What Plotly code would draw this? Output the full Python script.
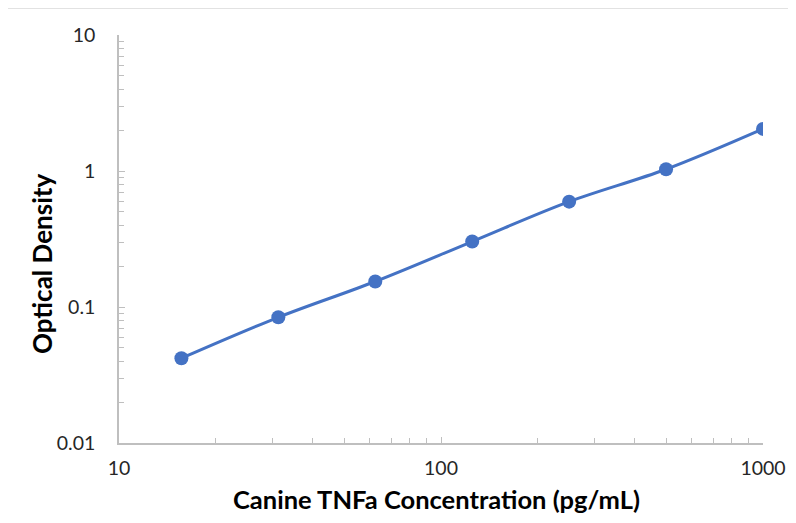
import plotly.graph_objects as go

concentration = [15.625, 31.25, 62.5, 125, 250, 500, 1000]
optical_density = [0.042, 0.084, 0.154, 0.303, 0.595, 1.03, 2.04]
x_ticks = [10, 100, 1000]
x_tick_labels = ["10", "100", "1000"]
y_ticks = [0.01, 0.1, 1, 10]
y_tick_labels = ["0.01", "0.1", "1", "10"]
x_title = "Canine TNFa Concentration (pg/mL)"
y_title = "Optical Density"

# page body has an 8px offset, so figure is sized to fit the window
W, H = 780, 507
L, T = 111, 27
R = W - (763 - 8)
B = H - (443 - 8)
PW, PH = W - L - R, H - T - B

FONT = "Lato, Liberation Sans, Arial, sans-serif"

fig = go.Figure()
fig.add_trace(go.Scatter(
    x=concentration, y=optical_density, mode="lines+markers",
    line=dict(color="#4472C4", width=3, shape="spline"),
    marker=dict(color="#4472C4", size=14),
))

axis_common = dict(
    type="log", showgrid=False, zeroline=False, showline=True,
    linecolor="#BFBFBF", linewidth=1.5, ticks="inside", ticklen=6,
    tickcolor="#BFBFBF", tickwidth=1,
    tickfont=dict(family=FONT, size=19.5, color="#262626"),
    minor=dict(ticks="inside", ticklen=5, tickcolor="#BFBFBF", dtick="D1"),
)

fig.update_xaxes(**axis_common, range=[1, 3], tickvals=x_ticks, ticktext=x_tick_labels,
                 ticklabelstandoff=7)
fig.update_yaxes(**axis_common, range=[-2, 1], tickvals=y_ticks, ticktext=y_tick_labels,
                 ticklabelstandoff=18)

px = lambda p: (p - L) / PW
py = lambda p: (H - B - p) / PH

# axis titles placed as in the reference (Excel-style offsets)
fig.add_annotation(text="<b>%s</b>" % x_title, xref="paper", yref="paper",
                   x=px(428), y=py(491), xanchor="center", yanchor="middle",
                   showarrow=False, font=dict(family=FONT, size=25.5, color="#000"))
fig.add_annotation(text="<b>%s</b>" % y_title, xref="paper", yref="paper",
                   x=px(34), y=py(256), xanchor="center", yanchor="middle", textangle=-90,
                   showarrow=False, font=dict(family=FONT, size=26, color="#000"))

# outer chart border (light gray)
fig.add_shape(type="rect", xref="paper", yref="paper",
              x0=px(-1), x1=px(W + 10), y0=py(H + 10), y1=py(0),
              line=dict(color="#D9D9D9", width=1.5), layer="below")

fig.update_layout(
    width=W, height=H, margin=dict(l=L, r=R, t=T, b=B, autoexpand=False),
    paper_bgcolor="white", plot_bgcolor="white", showlegend=False,
)

fig.write_html("out.html")
